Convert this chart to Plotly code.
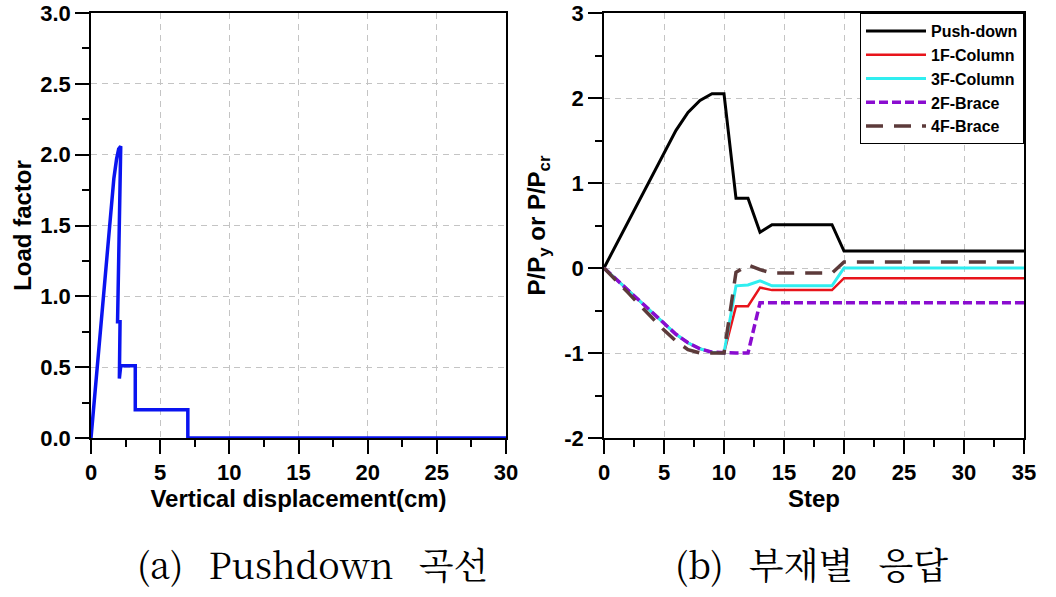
import plotly.graph_objects as go

# ---- (a) Pushdown curve ----
disp = [0, 0.45, 0.9, 1.2, 1.45, 1.65, 1.85, 2.0, 2.15, 1.92, 2.1, 2.05, 2.15, 3.2, 3.2, 7.0, 7.0, 30]
load = [0, 0.5, 1.0, 1.35, 1.62, 1.83, 1.97, 2.04, 2.06, 0.82, 0.82, 0.42, 0.51, 0.51, 0.2, 0.2, 0, 0]

# ---- (b) member responses ----
steps = list(range(36))
push_down = [0, 0.27, 0.54, 0.81, 1.08, 1.35, 1.62, 1.83, 1.97, 2.05, 2.05, 0.82, 0.82, 0.42,
             0.51, 0.51, 0.51, 0.51, 0.51, 0.51] + [0.2] * 16
col_1f = [0, -0.13, -0.26, -0.39, -0.53, -0.66, -0.78, -0.88, -0.95, -0.99, -1.0, -0.45, -0.45, -0.23,
          -0.26, -0.26, -0.26, -0.26, -0.26, -0.26] + [-0.12] * 16
col_3f = [0, -0.13, -0.26, -0.39, -0.53, -0.66, -0.78, -0.88, -0.95, -0.99, -1.0, -0.21, -0.20, -0.15,
          -0.21, -0.21, -0.21, -0.21, -0.21, -0.21] + [0.0] * 16
brace_2f = [0, -0.13, -0.26, -0.39, -0.53, -0.66, -0.78, -0.88, -0.95, -0.99, -1.0, -1.0, -1.0, -0.41,
            -0.41, -0.41, -0.41, -0.41, -0.41, -0.41] + [-0.41] * 16
brace_4f = [0, -0.14, -0.29, -0.44, -0.59, -0.73, -0.86, -0.96, -1.0, -1.0, -1.0, -0.05, 0.035, -0.02,
            -0.06, -0.06, -0.06, -0.06, -0.06, -0.06] + [0.07] * 16

y2_ticks = [-2, -1, 0, 1, 2, 3]
y2_labels = ["-2", "-1", "0", "1", "2", "3"]

fig = go.Figure()
fig.add_trace(go.Scatter(x=disp, y=load, mode="lines", line=dict(color="#0A14F0", width=3.5),
                         showlegend=False, xaxis="x", yaxis="y"))

series = [
    ("Push-down", push_down, dict(color="black", width=3)),
    ("1F-Column", col_1f, dict(color="#E8141B", width=2.5)),
    ("3F-Column", col_3f, dict(color="#30EEF0", width=3)),
    ("2F-Brace", brace_2f, dict(color="#8A0CD0", width=3.5, dash="9px,4px")),
    ("4F-Brace", brace_4f, dict(color="#5C3A3A", width=3.5, dash="17px,11px")),
]
for name, vals, ln in series:
    fig.add_trace(go.Scatter(x=steps, y=vals, mode="lines", name=name, line=ln,
                             xaxis="x2", yaxis="y2"))

W, H = 1056, 597


def px_x(p):
    return p / W


def px_y(p):
    return 1 - p / H


ydom = [px_y(438), px_y(13)]
tickfont = dict(family="Liberation Sans, Arial", size=22, color="black", weight="bold")
titlefont = dict(family="Liberation Sans, Arial", size=24, color="black", weight="bold")
grid = dict(showgrid=True, gridcolor="#c4c4c4", griddash="6px,5px", gridwidth=1)
common = dict(showline=True, linecolor="black", linewidth=1.5, mirror=True, ticks="outside",
              ticklen=14, tickwidth=1.5, tickcolor="black", zeroline=False, tickfont=tickfont,
              automargin=False, **grid)
minor_common = dict(ticks="outside", ticklen=7, tickwidth=1.5, tickcolor="black", showgrid=False)
capfont = dict(family="Noto Serif CJK KR, Liberation Serif, Noto Sans CJK KR", size=36, color="black")

fig.update_layout(
    width=W, height=H, margin=dict(l=0, r=0, t=0, b=0),
    paper_bgcolor="white", plot_bgcolor="white",
    xaxis=dict(domain=[px_x(91), px_x(506)], range=[0, 30], dtick=5, anchor="y",
               minor=dict(dtick=2.5, **minor_common),
               title=dict(text="Vertical displacement(cm)", font=titlefont, standoff=6), **common),
    yaxis=dict(domain=ydom, range=[0, 3], dtick=0.5, tickformat=".1f", anchor="x",
               minor=dict(dtick=0.25, **minor_common),
               title=dict(text="Load factor", font=titlefont, standoff=2), **common),
    xaxis2=dict(domain=[px_x(604), px_x(1024)], range=[0, 35], dtick=5, anchor="y2",
                minor=dict(dtick=2.5, **minor_common),
                title=dict(text="Step", font=titlefont, standoff=6), **common),
    yaxis2=dict(domain=ydom, range=[-2, 3], tickmode="array", tickvals=y2_ticks, ticktext=y2_labels,
                anchor="x2", minor=dict(dtick=0.5, tick0=0, **minor_common),
                title=dict(text="P/P<sub>y</sub> or P/P<sub>cr</sub>", font=titlefont, standoff=12), **common),
    legend=dict(x=px_x(1024), xanchor="right", y=px_y(13), yanchor="top",
                bgcolor="white", bordercolor="black", borderwidth=1,
                font=dict(family="Liberation Sans, Arial", size=16, color="black", weight="bold"),
                tracegroupgap=0, itemwidth=60),
    annotations=[
        dict(text="(a)\u2002\u2009Pushdown\u2002\u2009곡선", x=px_x(312), y=px_y(563), xref="paper", yref="paper",
             showarrow=False, xanchor="center", yanchor="middle", font=capfont),
        dict(text="(b)\u2002\u2009부재별\u2002\u2009응답", x=px_x(811), y=px_y(563), xref="paper", yref="paper",
             showarrow=False, xanchor="center", yanchor="middle", font=capfont),
    ],
)

fig.write_html("out.html", config={"displayModeBar": False},
               post_script="document.body.style.margin='0px';")
